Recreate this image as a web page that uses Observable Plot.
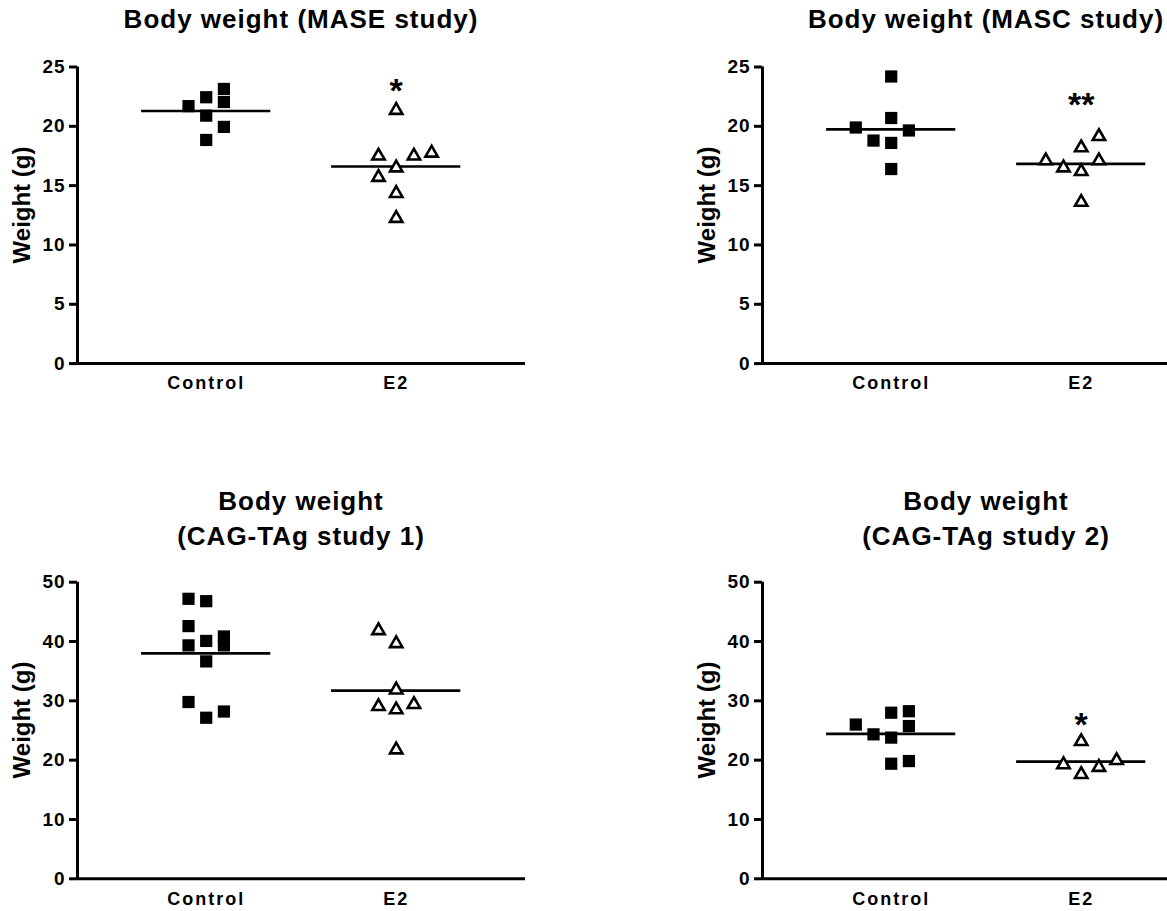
<!DOCTYPE html>
<html><head><meta charset="utf-8">
<script src="https://cdn.jsdelivr.net/npm/d3@7"></script>
<script src="https://cdn.jsdelivr.net/npm/@observablehq/plot@0.6"></script>
<style>
html,body{margin:0;padding:0;background:#fff;overflow:hidden;width:1167px;height:911px;}
#root{position:relative;width:1167px;height:911px;overflow:hidden;font-family:"Liberation Sans",Arial,sans-serif;color:#000;}
.plotbox{position:absolute;width:545px;}
.plotbox svg{max-width:none !important;display:block;}
.title{position:absolute;text-align:center;font-weight:bold;font-size:26px;letter-spacing:1px;white-space:nowrap;}
.ylab{position:absolute;font-weight:bold;font-size:24px;line-height:24px;white-space:nowrap;transform:translate(-50%,-50%) rotate(-90deg);}
g[aria-label="x-axis tick label"] text{letter-spacing:2px;}
g[aria-label="y-axis tick label"] text{letter-spacing:1px;}
</style>
</head><body><div id="root"></div>
<script>
// ---- data ----
const groups = ["Control", "E2"];

// MASE study (g)
const maseControl = [21.7, 22.45, 23.15, 22.05, 20.9, 19.95, 18.85];
const maseControlSlot = [-1, 0, 1, 1, 0, 1, 0];
const maseE2 = [21.35, 17.5, 17.5, 17.75, 16.5, 15.7, 14.35, 12.25];
const maseE2Slot = [0, -1, 1, 2, 0, -1, 0, 0];
const maseStars = [{g: 1, y: 23.6, t: "*"}];

// MASC study (g)
const mascControl = [24.2, 19.9, 20.7, 19.65, 18.8, 18.6, 16.4];
const mascControlSlot = [0, -2, 0, 1, -1, 0, 0];
const mascE2 = [17.1, 16.5, 18.2, 16.2, 19.15, 17.1, 13.6];
const mascE2Slot = [-2, -1, 0, 0, 1, 1, 0];
const mascStars = [{g: 1, y: 22.45, t: "**"}];

// CAG-TAg study 1 (g)
const cag1Control = [47.2, 46.8, 42.6, 40.1, 40.85, 39.35, 39.35, 36.65, 29.8, 27.15, 28.2];
const cag1ControlSlot = [-1, 0, -1, 0, 1, 1, -1, 0, -1, 0, 1];
const cag1E2 = [41.85, 39.65, 31.85, 29.05, 28.5, 29.4, 21.75];
const cag1E2Slot = [-1, 0, 0, -1, 0, 1, 0];
const cag1Stars = [];

// CAG-TAg study 2 (g)
const cag2Control = [26.0, 24.35, 28.0, 23.8, 28.25, 25.75, 19.4, 19.85];
const cag2ControlSlot = [-2, -1, 0, 0, 1, 1, 0, 1];
const cag2E2 = [23.15, 19.25, 17.6, 18.8, 19.95];
const cag2E2Slot = [0, -1, 0, 1, 2];
const cag2Stars = [{g: 1, y: 27.25, t: "*"}];

const topTicks = [0, 5, 10, 15, 20, 25];
const bottomTicks = [0, 10, 20, 30, 40, 50];

// ---- layout ----
const X0 = -0.6774, X1 = 1.6805, SLOT = 0.0932, HALF = 0.34;
const W = 545, ML = 77, MR = 20, MB = 34;

function makePanel(cfg) {
  const ctrl = cfg.ctrl.map((v, i) => ({g: 0, slot: cfg.ctrlSlot[i], v}));
  const e2 = cfg.e2.map((v, i) => ({g: 1, slot: cfg.e2Slot[i], v}));
  const means = [{g: 0, m: d3.mean(cfg.ctrl)}, {g: 1, m: d3.mean(cfg.e2)}];
  const yMax = cfg.ticks[cfg.ticks.length - 1];
  const svg = Plot.plot({
    width: W, height: cfg.mt + 296.6 + MB,
    marginLeft: ML, marginRight: MR, marginTop: cfg.mt, marginBottom: MB,
    style: {fontFamily: '"Liberation Sans", Arial, sans-serif', background: "white", color: "black", overflow: "visible"},
    x: {domain: [X0, X1], axis: null},
    y: {domain: [0, yMax], axis: null},
    marks: [
      Plot.axisY({ticks: cfg.ticks, tickSize: 8, tickPadding: 4, strokeWidth: 3, fontSize: 19, fontWeight: "bold", label: null, anchor: "left"}),
      Plot.axisX({ticks: [0, 1], tickFormat: d => groups[d], tickSize: 0, tickPadding: 13, fontSize: 18, fontWeight: "bold", label: null, anchor: "bottom"}),
      Plot.ruleX([X0], {y1: 0, y2: yMax, strokeWidth: 3}),
      Plot.ruleY([0], {strokeWidth: 3}),
      Plot.ruleY(means, {y: "m", x1: d => d.g - HALF, x2: d => d.g + HALF, strokeWidth: 2.7}),
      Plot.dot(ctrl, {x: d => d.g + d.slot * SLOT, y: "v", symbol: "square", r: 6.9, fill: "black"}),
      Plot.dot(e2, {x: d => d.g + d.slot * SLOT, y: "v", symbol: "triangle", r: 4.6, fill: "white", stroke: "black", strokeWidth: 2.6}),
      Plot.text(cfg.stars, {x: "g", y: "y", text: "t", fontSize: 34, fontWeight: "bold", dy: 8})
    ]
  });
  const box = document.createElement("div");
  box.className = "plotbox";
  box.style.left = cfg.left + "px";
  box.style.top = cfg.top + "px";
  box.appendChild(svg);
  root.appendChild(box);

  const t = document.createElement("div");
  t.className = "title";
  t.style.left = (cfg.left + ML) + "px";
  t.style.width = (W - ML - MR) + "px";
  t.style.top = cfg.titleTop + "px";
  t.style.lineHeight = cfg.titleLH + "px";
  t.innerHTML = cfg.title;
  root.appendChild(t);

  const yl = document.createElement("div");
  yl.className = "ylab";
  yl.style.left = (cfg.left + 22.3) + "px";
  yl.style.top = cfg.ylabY + "px";
  yl.textContent = "Weight (g)";
  root.appendChild(yl);
}

const root = document.getElementById("root");
makePanel({left: 0, top: 40, mt: 26.5, ticks: topTicks, ctrl: maseControl, ctrlSlot: maseControlSlot, e2: maseE2, e2Slot: maseE2Slot, stars: maseStars,
  title: "Body weight (MASE study)", titleTop: 6.2, titleLH: 26, ylabY: 205});
makePanel({left: 685, top: 40, mt: 26.5, ticks: topTicks, ctrl: mascControl, ctrlSlot: mascControlSlot, e2: mascE2, e2Slot: mascE2Slot, stars: mascStars,
  title: "Body weight (MASC study)", titleTop: 6.2, titleLH: 26, ylabY: 205});
makePanel({left: 0, top: 555, mt: 26.7, ticks: bottomTicks, ctrl: cag1Control, ctrlSlot: cag1ControlSlot, e2: cag1E2, e2Slot: cag1E2Slot, stars: cag1Stars,
  title: "Body weight<br>(CAG-TAg study 1)", titleTop: 484.3, titleLH: 34.5, ylabY: 720});
makePanel({left: 685, top: 555, mt: 26.7, ticks: bottomTicks, ctrl: cag2Control, ctrlSlot: cag2ControlSlot, e2: cag2E2, e2Slot: cag2E2Slot, stars: cag2Stars,
  title: "Body weight<br>(CAG-TAg study 2)", titleTop: 484.3, titleLH: 34.5, ylabY: 720});
</script>
</body></html>
